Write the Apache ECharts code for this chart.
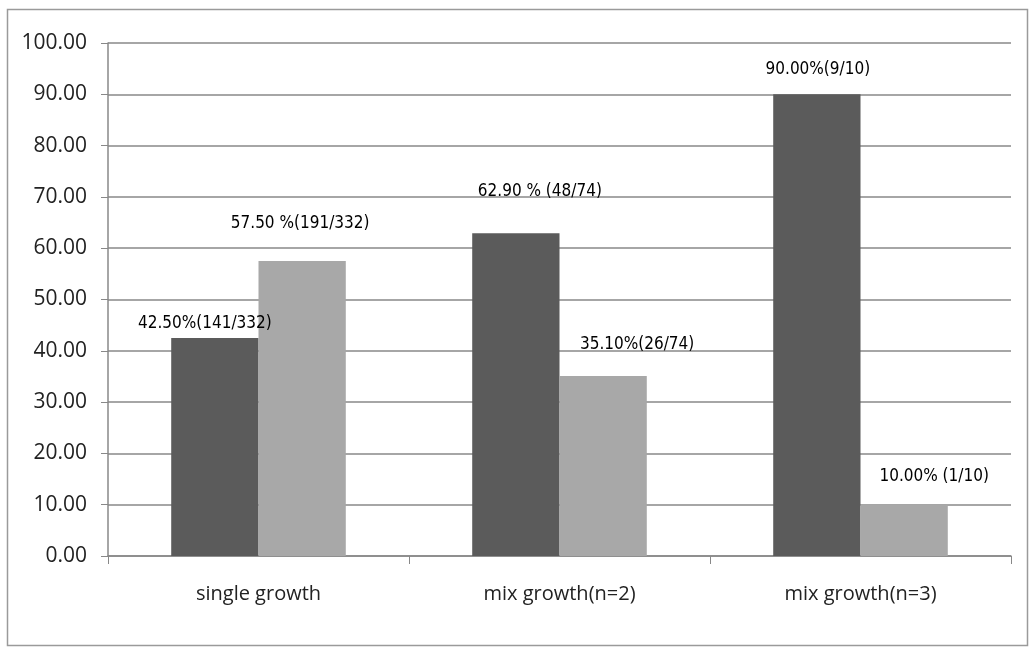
<!DOCTYPE html>
<html>
<head>
<meta charset="utf-8">
<script src="https://cdn.jsdelivr.net/npm/echarts@6/dist/echarts.min.js"></script>
<style>
  html, body { margin: 0; padding: 0; background: #fff; }
  #chart { width: 1034px; height: 650px; }
</style>
</head>
<body>
<div id="chart"></div>
<script>
// 数据
const categories = ['single growth', 'mix growth(n=2)', 'mix growth(n=3)']
const darkValues = [42.5, 62.9, 90.0]
const lightValues = [57.5, 35.1, 10.0]
const darkLabels = ['42.50%(141/332)', '62.90 % (48/74)', '90.00%(9/10)']
const lightLabels = ['57.50 %(191/332)', '35.10%(26/74)', '10.00% (1/10)']
const yTicks = [0, 10, 20, 30, 40, 50, 60, 70, 80, 90, 100]

// label placement tweaks [dx, dy]
const darkLabelShift = [[-10, 0], [24, -27], [1, -10]]
const lightLabelShift = [[-2, -23], [34, -17], [30, -14]]

const axisColor = '#888'
const labelFont = "'Liberation Sans Narrow', 'DejaVu Sans Condensed', sans-serif"

function buildData (values, labels, shifts) {
  return values.map((v, i) => ({
    value: v,
    label: {
      formatter: labels[i],
      offset: shifts[i]
    }
  }))
}

const myChart = echarts.init(document.getElementById('chart'))
const option = {
  animation: false,
  graphic: [{
    type: 'rect',
    shape: { x: 7.5, y: 9.5, width: 1020, height: 636 },
    style: { fill: 'none', stroke: '#9a9a9a', lineWidth: 1.5 },
    silent: true
  }],
  grid: { left: 108, right: 23, top: 43, bottom: 94 },
  xAxis: {
    type: 'category',
    data: categories,
    axisLine: { lineStyle: { color: axisColor, width: 1.5 } },
    axisTick: { show: true, length: 8, lineStyle: { color: axisColor } },
    axisLabel: {
      color: '#222',
      fontSize: 20,
      fontFamily: "'Open Sans', sans-serif",
      margin: 28
    }
  },
  yAxis: {
    type: 'value',
    min: yTicks[0],
    max: yTicks[yTicks.length - 1],
    interval: 10,
    axisLine: { show: true, lineStyle: { color: axisColor, width: 1.5 } },
    axisTick: { show: true, length: 7, lineStyle: { color: axisColor } },
    axisLabel: {
      color: '#222',
      fontSize: 21,
      fontFamily: "'Open Sans', sans-serif",
      margin: 21,
      formatter: v => v.toFixed(2)
    },
    splitLine: { lineStyle: { color: axisColor, width: 1.5 } }
  },
  series: [
    {
      name: 'dark',
      type: 'bar',
      data: buildData(darkValues, darkLabels, darkLabelShift),
      barGap: '0%',
      barCategoryGap: '42%',
      itemStyle: { color: '#5b5b5b' },
      label: {
        show: true,
        position: 'top',
        distance: 6,
        color: '#000',
        fontSize: 17,
        fontFamily: labelFont
      }
    },
    {
      name: 'light',
      type: 'bar',
      data: buildData(lightValues, lightLabels, lightLabelShift),
      barGap: '0%',
      barCategoryGap: '42%',
      itemStyle: { color: '#a8a8a8' },
      label: {
        show: true,
        position: 'top',
        distance: 6,
        color: '#000',
        fontSize: 17,
        fontFamily: labelFont
      }
    }
  ]
}
myChart.setOption(option)
</script>
</body>
</html>
